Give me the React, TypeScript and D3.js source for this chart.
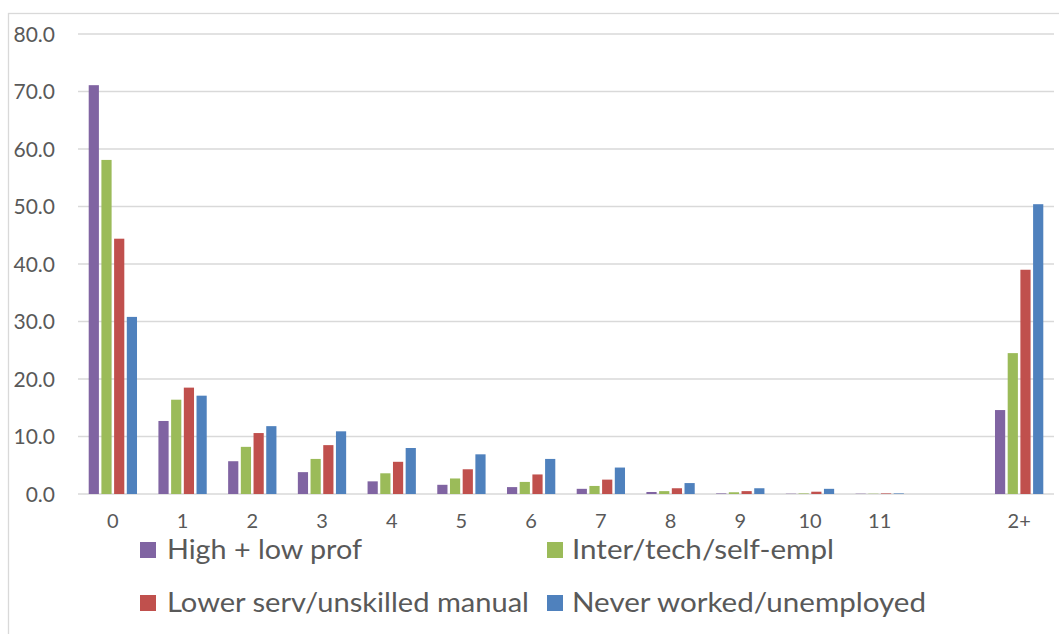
import React from "react";
import * as d3 from "d3";

const categories = ["0", "1", "2", "3", "4", "5", "6", "7", "8", "9", "10", "11", "", "2+"];
const seriesNames = [
  "High + low prof",
  "Inter/tech/self-empl",
  "Lower serv/unskilled manual",
  "Never worked/unemployed",
];
const seriesColors = ["#8064A2", "#9BBB59", "#C0504D", "#4F81BD"];
const highLowProf = [71.1, 12.7, 5.7, 3.8, 2.2, 1.6, 1.2, 0.9, 0.35, 0.1, 0.05, 0.05, null, 14.6];
const interTech = [58.1, 16.4, 8.2, 6.1, 3.6, 2.7, 2.1, 1.4, 0.5, 0.3, 0.1, 0.05, null, 24.5];
const lowerServ = [44.4, 18.5, 10.6, 8.5, 5.6, 4.3, 3.4, 2.5, 1.0, 0.5, 0.4, 0.1, null, 39.0];
const neverWorked = [30.8, 17.1, 11.8, 10.9, 8.0, 6.9, 6.1, 4.6, 1.9, 1.0, 0.9, 0.1, null, 50.4];
const yTicks = [0, 10, 20, 30, 40, 50, 60, 70, 80];

const series = [highLowProf, interTech, lowerServ, neverWorked];
const legendTextWidths = [195, 262, 362, 354];

const W = 1059;
const H = 634;
const plotLeft = 78;
const plotRight = 1054;
const plotTop = 34;
const plotBottom = 494;
const FONT = "Lato, 'Open Sans', sans-serif";
const TEXT = "#595959";
const GRID = "#d9d9d9";

export default function App() {
  const x = d3.scaleBand<string>().domain(categories.map((c, i) => String(i))).range([plotLeft, plotRight]).padding(0);
  const y = d3.scaleLinear().domain([0, 80]).range([plotBottom, plotTop]);
  const step = 12.7;
  const barW = 10.2;
  const fmt = d3.format(".1f");

  return (
    <svg
      width={W}
      height={H}
      style={{ position: "absolute", left: 0, top: 0, display: "block", background: "#fff" }}
      fontFamily={FONT}
    >
      <rect x={8.5} y={13.5} width={W} height={H} fill="#fff" stroke={GRID} strokeWidth={1.3} />
      {yTicks.map((t) => (
        <g key={t}>
          <line x1={plotLeft} x2={plotRight} y1={y(t)} y2={y(t)} stroke={GRID} strokeWidth={1.5} />
          <text x={55} y={y(t)} dy="0.36em" textAnchor="end" fontSize={21} fill={TEXT}>
            {fmt(t)}
          </text>
        </g>
      ))}
      {categories.map((c, i) => {
        const cx = (x(String(i)) as number) + x.bandwidth() / 2;
        return (
          <g key={i}>
            {series.map((s, k) => {
              const v = s[i];
              if (v == null) return null;
              const slotX = cx - 2 * step + k * step;
              return (
                <rect
                  key={k}
                  x={slotX + (step - barW) / 2}
                  y={y(v)}
                  width={barW}
                  height={plotBottom - y(v)}
                  fill={seriesColors[k]}
                />
              );
            })}
            <text x={cx} y={521} dy="0.36em" textAnchor="middle" fontSize={20} fill={TEXT}>
              {c}
            </text>
          </g>
        );
      })}
      {seriesNames.map((name, k) => {
        const col = k % 2;
        const row = Math.floor(k / 2);
        const sx = col === 0 ? 140 : 547;
        const cy = row === 0 ? 550 : 603;
        return (
          <g key={name}>
            <rect x={sx} y={cy - 8} width={16} height={16} fill={seriesColors[k]} />
            <text
              x={col === 0 ? 167 : 572}
              y={cy}
              dy="0.36em"
              fontSize={26}
              fill={TEXT}
              textLength={legendTextWidths[k]}
              lengthAdjust="spacingAndGlyphs"
            >
              {name}
            </text>
          </g>
        );
      })}
    </svg>
  );
}
